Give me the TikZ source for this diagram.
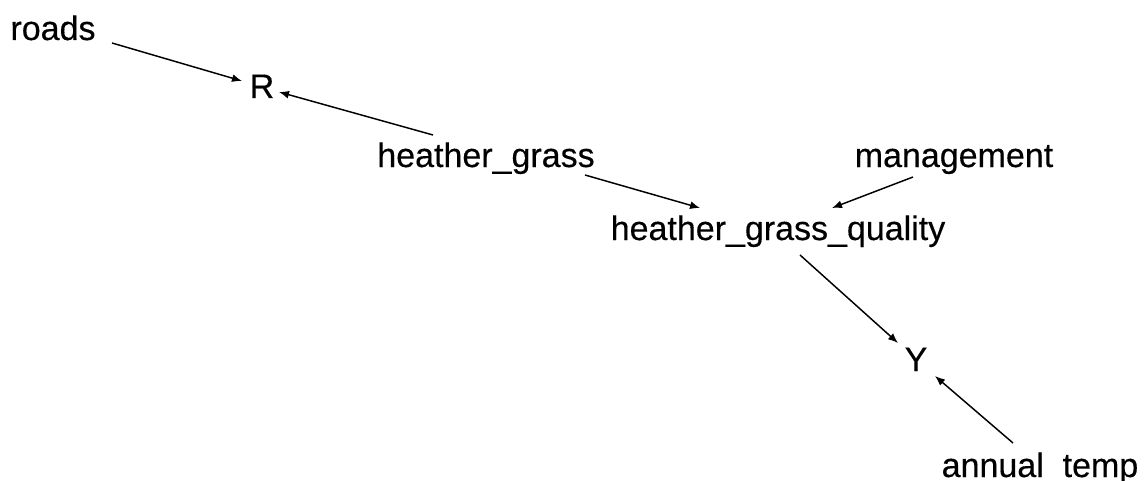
\documentclass[tikz,border=0pt]{standalone}
\usepackage{fontspec}
\setmainfont[FakeBold=0.35]{Liberation Sans}
\usetikzlibrary{arrows.meta}
\begin{document}
\begin{tikzpicture}[x=0.75pt,y=-0.75pt,
  lbl/.style={inner sep=0pt,anchor=base,font=\fontsize{25.5}{30}\selectfont},
  arr/.style={-{Latex[length=7.5pt,width=6pt]},line width=1.1pt,black}]
\useasboundingbox (0,0) rectangle (1145,481);
\node[lbl] (roads) at (53,40) {roads};
\node[lbl] (R) at (262,98) {R};
\node[lbl] (hg) at (486,167) {heather\_grass};
\node[lbl] (man) at (954,167) {management};
\node[lbl] (hgq) at (778,240) {heather\_grass\_quality};
\node[lbl] (Y) at (916,371) {Y};
\node[lbl] (temp) at (1040,477) {annual\ \ temp};
\draw[arr] ([shift={(59,3)}]roads.base) -- ([shift={(-20,-17)}]R.base);
\draw[arr] ([shift={(-53,-32)}]hg.base) -- ([shift={(17,-6)}]R.base);
\draw[arr] ([shift={(99,8)}]hg.base) -- ([shift={(-78,-32)}]hgq.base);
\draw[arr] ([shift={(-41,10)}]man.base) -- ([shift={(54,-32)}]hgq.base);
\draw[arr] ([shift={(22,15)}]hgq.base) -- ([shift={(-18,-28)}]Y.base);
\draw[arr] ([shift={(-27,-34)}]temp.base) -- ([shift={(19,5)}]Y.base);
\end{tikzpicture}
\end{document}
